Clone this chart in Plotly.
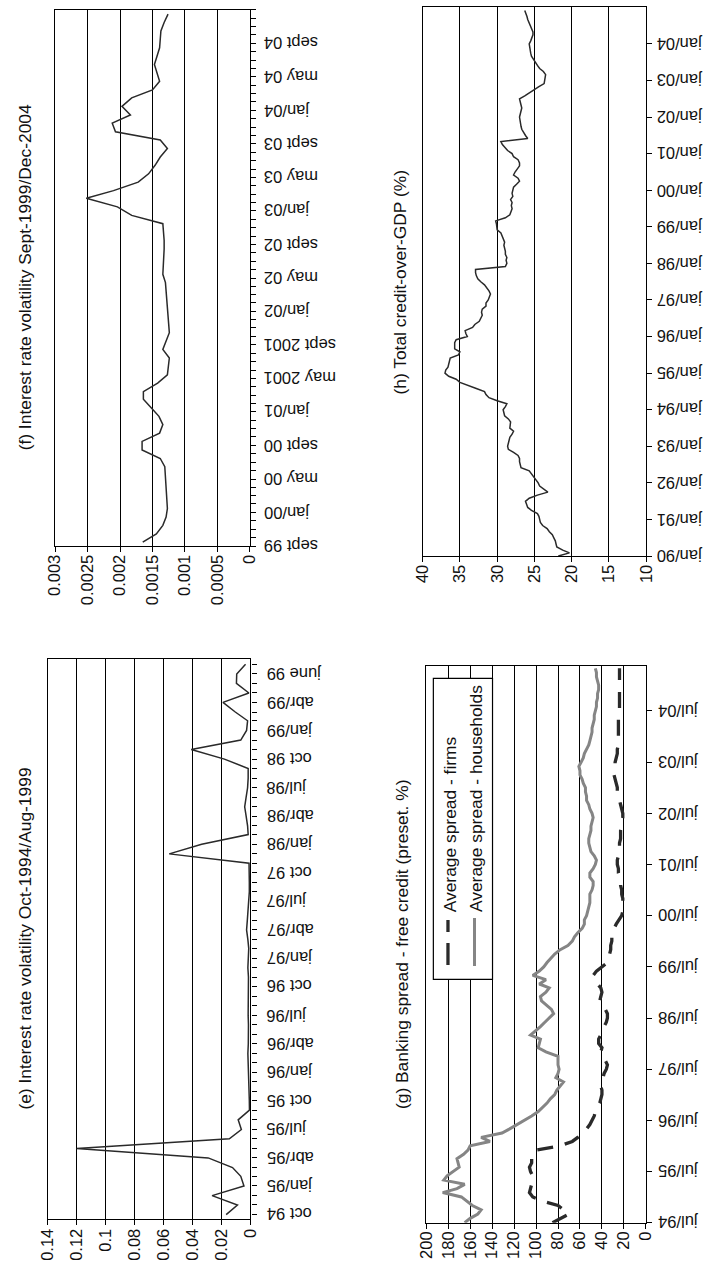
import plotly.graph_objects as go
import pandas as pd

W, H = 714, 1267

# ---------------- data ----------------
# (f) Interest rate volatility Sept-1999/Dec-2004 (monthly)
f_start = "1999-09-15"
f_values = [0.00165, 0.00144, 0.00134, 0.00129, 0.00127, 0.00128, 0.00129, 0.00129,
            0.00130, 0.00131, 0.00138, 0.00166, 0.00166, 0.00139, 0.00134, 0.00140,
            0.00152, 0.00164, 0.00164, 0.00142, 0.00127, 0.00125, 0.00124, 0.00134,
            0.00129, 0.00124, 0.00125, 0.00126, 0.00127, 0.00127, 0.00128, 0.00130,
            0.00134, 0.00133, 0.00133, 0.00132, 0.00132, 0.00133, 0.00134, 0.00182,
            0.00204, 0.00252, 0.00210, 0.00172, 0.00156, 0.00146, 0.00138, 0.00127,
            0.00138, 0.00207, 0.00212, 0.00184, 0.00197, 0.00182, 0.00150, 0.00139,
            0.00143, 0.00147, 0.00143, 0.00139, 0.00138, 0.00137, 0.00132, 0.00126]
f_tick_dates = ["1999-09-01", "2000-01-01", "2000-05-01", "2000-09-01", "2001-01-01",
                "2001-05-01", "2001-09-01", "2002-01-01", "2002-05-01", "2002-09-01",
                "2003-01-01", "2003-05-01", "2003-09-01", "2004-01-01", "2004-05-01",
                "2004-09-01"]
f_tick_labels = ["sept 99", "jan/00", "may 00", "sept 00", "jan/01", "may 2001",
                 "sept 2001", "jan/02", "may 02", "sept 02", "jan/03", "may 03",
                 "sept 03", "jan/04", "may 04", "sept 04"]
f_value_ticks = [0.003, 0.0025, 0.002, 0.0015, 0.001, 0.0005, 0]
f_value_labels = ["0.003", "0.0025", "0.002", "0.0015", "0.001", "0.0005", "0"]

# (e) Interest rate volatility Oct-1994/Aug-1999 (monthly)
e_start = "1994-10-15"
e_values = [0.0168, 0.0090, 0.0265, 0.0045, 0.0067, 0.0124, 0.0292, 0.1200, 0.0146,
            0.0063, 0.0085, 0.0007, 0.0008, 0.0010, 0.0012, 0.0015, 0.0020, 0.0018,
            0.0015, 0.0012, 0.0014, 0.0016, 0.0015, 0.0013, 0.0012, 0.0014, 0.0018,
            0.0015, 0.0012, 0.0018, 0.0027, 0.0022, 0.0016, 0.0012, 0.0008, 0.0008,
            0.0010, 0.0010, 0.0561, 0.0337, 0.0016, 0.0020, 0.0030, 0.0040, 0.0030,
            0.0020, 0.0016, 0.0016, 0.0180, 0.0409, 0.0067, 0.0027, 0.0020, 0.0105,
            0.0190, 0.0011, 0.0097, 0.0095, 0.0034]
e_tick_dates = ["1994-10-15", "1995-01-15", "1995-04-15", "1995-07-15", "1995-10-15",
                "1996-01-15", "1996-04-15", "1996-07-15", "1996-10-15", "1997-01-15",
                "1997-04-15", "1997-07-15", "1997-10-15", "1998-01-15", "1998-04-15",
                "1998-07-15", "1998-10-15", "1999-01-15", "1999-04-15", "1999-07-15"]
e_tick_labels = ["oct 94", "jan/95", "abr/95", "jul/95", "oct 95", "jan/96", "abr/96",
                 "jul/96", "oct 96", "jan/97", "abr/97", "jul/97", "oct 97", "jan/98",
                 "abr/98", "jul/98", "oct 98", "jan/99", "abr/99", "june 99"]
e_value_ticks = [0.14, 0.12, 0.1, 0.08, 0.06, 0.04, 0.02, 0]
e_value_labels = ["0.14", "0.12", "0.1", "0.08", "0.06", "0.04", "0.02", "0"]

# (h) Total credit-over-GDP (%) (monthly, Jan 1990 - Dec 2004)
h_start = "1990-01-01"
h_values = [
    21.8, 20.3, 21.2, 22.0, 22.1, 22.2, 22.4, 22.6, 23.0, 23.3, 23.9, 24.2,
    24.3, 24.4, 24.6, 25.4, 25.9, 26.1, 26.2, 25.7, 24.6, 23.2, 23.8, 24.3,
    24.5, 24.8, 25.0, 25.3, 25.7, 26.8, 26.9, 27.0, 27.0, 27.2, 27.8, 28.5,
    28.6, 28.5, 28.4, 28.3, 28.0, 27.8, 28.3, 28.2, 28.2, 28.5, 29.0, 29.1,
    29.2, 28.9, 28.7, 30.0, 31.1, 31.5, 31.7, 32.8, 34.0, 35.0, 35.5, 36.5,
    37.0, 36.9, 36.6, 36.5, 36.5, 36.3, 35.2, 35.0, 35.7, 35.7, 35.7, 35.5,
    34.0, 34.2, 34.3, 33.3, 33.0, 32.4, 32.2, 32.0, 32.1, 32.0, 31.5, 31.5,
    31.2, 31.0, 30.9, 31.1, 31.4, 31.7, 32.2, 32.6, 32.8, 32.9, 32.9, 28.9,
    28.7, 28.8, 28.7, 28.9, 28.9, 29.0, 29.1, 29.0, 29.2, 29.3, 29.5, 30.0,
    30.0, 30.1, 30.2, 28.9, 28.3, 28.2, 28.0, 28.1, 28.0, 28.2, 27.9, 28.0,
    27.9, 27.8, 27.4, 27.0, 27.2, 27.8, 27.6, 27.3, 27.0, 27.0, 27.2, 27.8,
    28.0, 28.6, 29.0, 29.3, 29.5, 25.9, 26.2, 26.5, 26.7, 26.8, 26.9, 27.0,
    27.0, 26.9, 26.8, 26.7, 26.8, 26.9, 27.0, 26.3, 25.7, 25.0, 24.4, 23.7,
    23.6, 23.5, 23.5, 23.8, 24.3, 24.6, 24.9, 25.2, 25.4, 25.5, 25.6, 25.7,
    25.7, 25.5, 25.3, 25.2, 25.2, 25.4, 25.6, 25.7, 25.9, 26.0, 26.2, 26.3]
h_tick_dates = [f"{1990 + i}-01-01" for i in range(15)]
h_tick_labels = ["jan/90", "jan/91", "jan/92", "jan/93", "jan/94", "jan/95", "jan/96",
                 "jan/97", "jan/98", "jan/99", "jan/00", "jan/01", "jan/02", "jan/03",
                 "jan/04"]
h_value_ticks = [40, 35, 30, 25, 20, 15, 10]

# (g) Banking spread - free credit (monthly, Jul 1994 - May 2005)
g_start = "1994-07-01"
g_households = [
    165, 160, 153, 150, 158, 163, 168, 185, 172, 165, 184, 181,
    176, 170, 171, 172, 166, 162, 160, 142, 150, 131, 124, 117,
    110, 104, 98, 94, 90, 87, 83, 81, 78, 75, 82, 80,
    79, 80, 80, 80, 91, 98, 97, 96, 105, 100, 96, 92,
    88, 84, 86, 90, 95, 96, 91, 88, 97, 91, 103, 97,
    93, 90, 86, 83, 78, 71, 67, 65, 62, 58, 56, 56,
    54, 53, 52, 51, 51, 51, 49, 48, 48, 51, 51, 48,
    46, 45, 47, 50, 51, 52, 52, 51, 50, 50, 49, 48,
    49, 51, 52, 54, 54, 55, 55, 57, 58, 60, 60, 61,
    59, 57, 56, 54, 52, 51, 50, 49, 49, 48, 47, 47,
    46, 45, 45, 44, 44, 43, 43, 44, 45, 45, 46]
g_firms = [
    85, 78, 70, 75, 80, 94, 103, 106, 105, 104, 104, 103,
    105, 106, 104, 104, 104, 100, 78, 67, 62, 58, 54, 51,
    49, 47, 46, 44, 42, 41, 40, 40, 41, 40, 39, 38,
    36, 35, 37, 39, 41, 40, 43, 43, 41, 39, 38, 36,
    35, 35, 37, 41, 42, 41, 40, 41, 44, 46, 48, 45,
    40, 35, 34, 33, 32, 32, 31, 31, 30, 29, 27, 24,
    22, 21, 20, 21, 21, 22, 22, 23, 23, 24, 25, 25,
    26, 26, 25, 25, 24, 24, 23, 23, 23, 22, 22, 21,
    21, 22, 23, 24, 25, 26, 26, 27, 28, 29, 29, 28,
    28, 27, 26, 26, 25, 25, 25, 25, 25, 25, 25, 25,
    24, 24, 24, 24, 24, 24, 24, 24, 24, 24, 24]
g_tick_dates = [f"{1994 + i}-07-01" for i in range(11)]
g_tick_labels = ["jul/94", "jul/95", "jul/96", "jul/97", "jul/98", "jul/99", "jul/00",
                 "jul/01", "jul/02", "jul/03", "jul/04"]
g_value_ticks = [200, 180, 160, 140, 120, 100, 80, 60, 40, 20, 0]
g_series_names = ["Average spread - firms", "Average spread - households"]

titles = ["(f) Interest rate volatility Sept-1999/Dec-2004",
          "(e) Interest rate volatility Oct-1994/Aug-1999",
          "(h) Total credit-over-GDP (%)",
          "(g) Banking spread - free credit (preset. %)"]

# ---------------- layout helpers ----------------
FONT = "Liberation Sans, Arial, sans-serif"
TICKF = dict(family=FONT, size=16.5, color="#111")
TEXTF = dict(family=FONT, size=17.4, color="#111")
DARK = "#2a2a2a"
GRAY = "#858585"


def px_x(v):
    return v / W


def px_y(v):
    return 1 - v / H


def dates(start, n):
    s = pd.Timestamp(start)
    return pd.date_range(start=s.replace(day=1), periods=n, freq="MS") + (s - s.replace(day=1))


fig = go.Figure()

# panel boxes (pixel coords: left, right, top, bottom)
boxes = {
    "f": (46.3, 246.0, 9.5, 546.0),
    "e": (38.7, 246.7, 659.0, 1219.0),
    "h": (423.3, 652.7, 7.3, 556.0),
    "g": (427.0, 652.3, 665.7, 1222.7),
}
axis_ids = {"f": ("x", "y"), "e": ("x2", "y2"), "h": ("x3", "y3"), "g": ("x4", "y4")}

f_dates = dates(f_start, len(f_values))
e_dates = dates(e_start, len(e_values))
h_dates = dates(h_start, len(h_values))
g_dates = dates(g_start, len(g_households))

fig.add_trace(go.Scatter(x=f_values, y=f_dates, mode="lines", xaxis="x", yaxis="y",
                         line=dict(color=DARK, width=1.5), showlegend=False))
fig.add_trace(go.Scatter(x=e_values, y=e_dates, mode="lines", xaxis="x2", yaxis="y2",
                         line=dict(color=DARK, width=1.5), showlegend=False))
fig.add_trace(go.Scatter(x=h_values, y=h_dates, mode="lines", xaxis="x3", yaxis="y3",
                         line=dict(color=DARK, width=1.5), showlegend=False))
fig.add_trace(go.Scatter(x=g_firms, y=g_dates, mode="lines", xaxis="x4", yaxis="y4",
                         name=g_series_names[0],
                         line=dict(color=DARK, width=3.3, dash="16px,12px"), showlegend=False))
fig.add_trace(go.Scatter(x=g_households, y=g_dates, mode="lines", xaxis="x4", yaxis="y4",
                         name=g_series_names[1],
                         line=dict(color=GRAY, width=3), showlegend=False))


def value_axis(key, rng, tv, tt, standoff):
    l, r, t, b = boxes[key]
    return dict(domain=[px_x(l), px_x(r)], range=rng, autorange=False,
                tickmode="array", tickvals=tv, ticktext=tt, tickangle=-90,
                ticks="outside", ticklen=5, tickcolor="black", tickwidth=1,
                showgrid=True, gridcolor="black", gridwidth=1.2,
                showline=True, linecolor="black", linewidth=1.3, mirror=True,
                zeroline=False, tickfont=TICKF, ticklabelstandoff=standoff,
                anchor=axis_ids[key][1], fixedrange=True)


def time_axis(key, rng, tv, minor=None):
    l, r, t, b = boxes[key]
    d = dict(domain=[px_y(b), px_y(t)], range=rng, autorange=False, type="date",
             side="right", tickmode="array", tickvals=tv, showticklabels=False,
             ticks="outside", ticklen=5, tickcolor="black", tickwidth=1,
             showgrid=False, showline=True, linecolor="black", linewidth=1.3,
             mirror=True, zeroline=False,
             anchor=axis_ids[key][0], fixedrange=True)
    if minor:
        d["minor"] = minor
    return d


layout = dict(
    width=W, height=H, margin=dict(l=0, r=0, t=0, b=0),
    paper_bgcolor="white", plot_bgcolor="white", showlegend=False,
    xaxis=value_axis("f", [0.003, 0], f_value_ticks, f_value_labels, -4),
    yaxis=time_axis("f", ["1999-09-01", "2005-01-01"], f_tick_dates,
                    minor=dict(ticks="outside", dtick="M1", tick0="1999-09-01", ticklen=5,
                               tickcolor="black", showgrid=False)),
    xaxis2=value_axis("e", [0.14, 0], e_value_ticks, e_value_labels, -3),
    yaxis2=time_axis("e", ["1994-10-01", "1999-09-01"], e_tick_dates,
                     minor=dict(ticks="outside", dtick="M1", tick0="1994-10-15", ticklen=5,
                                tickcolor="black", showgrid=False)),
    xaxis3=value_axis("h", [40, 10], h_value_ticks, [str(v) for v in h_value_ticks], -4),
    yaxis3=time_axis("h", ["1990-01-01", "2005-01-01"], h_tick_dates),
    xaxis4=value_axis("g", [200, 0], g_value_ticks, [str(v) for v in g_value_ticks], -4),
    yaxis4=time_axis("g", ["1994-07-01", "2005-05-20"], g_tick_dates),
)
fig.update_layout(**layout)

# time-axis tick labels (upside down, as in the rotated page)
label_sets = [("y", f_tick_dates, f_tick_labels, 258),
              ("y2", e_tick_dates, e_tick_labels, 261),
              ("y3", h_tick_dates, h_tick_labels, 661),
              ("y4", g_tick_dates, g_tick_labels, 663)]
for yref, tds, tls, xl in label_sets:
    for d, lab in zip(tds, tls):
        fig.add_annotation(text=lab, xref="paper", yref=yref, x=px_x(xl), y=d,
                           textangle=180, showarrow=False, xanchor="left",
                           yanchor="middle", font=TICKF)

# titles (rotated)
title_pos = [(15, "f"), (15, "e"), (400, "h"), (402, "g")]
for text, (xp, key) in zip(titles, title_pos):
    l, r, t, b = boxes[key]
    fig.add_annotation(text=text, xref="paper", yref="paper", x=px_x(xp),
                       y=px_y((t + b) / 2), textangle=-90, showarrow=False,
                       font=TEXTF, xanchor="center", yanchor="middle")

# legend for panel g (rotated, drawn manually)
fig.add_shape(type="rect", xref="paper", yref="paper",
              x0=px_x(434.3), x1=px_x(495.0), y0=px_y(979.3), y1=px_y(678.3),
              line=dict(color="black", width=1.2), fillcolor="white", layer="above")
for y_a, y_b in [(920, 932), (943, 965)]:
    fig.add_shape(type="line", xref="paper", yref="paper",
                  x0=px_x(449.3), x1=px_x(449.3), y0=px_y(y_b), y1=px_y(y_a),
                  line=dict(color=DARK, width=3.3), layer="above")
fig.add_shape(type="line", xref="paper", yref="paper",
              x0=px_x(476.5), x1=px_x(476.5), y0=px_y(966), y1=px_y(918),
              line=dict(color=GRAY, width=3), layer="above")
for name, xp in zip(g_series_names, [451.7, 478.6]):
    fig.add_annotation(text=name, xref="paper", yref="paper", x=px_x(xp), y=px_y(914),
                       textangle=-90, showarrow=False, xanchor="center", yanchor="bottom",
                       font=TEXTF)

fig.write_html("out.html",
               config={"displayModeBar": False},
               post_script="document.body.style.margin='0px';"
                           "document.body.style.overflow='hidden';")
